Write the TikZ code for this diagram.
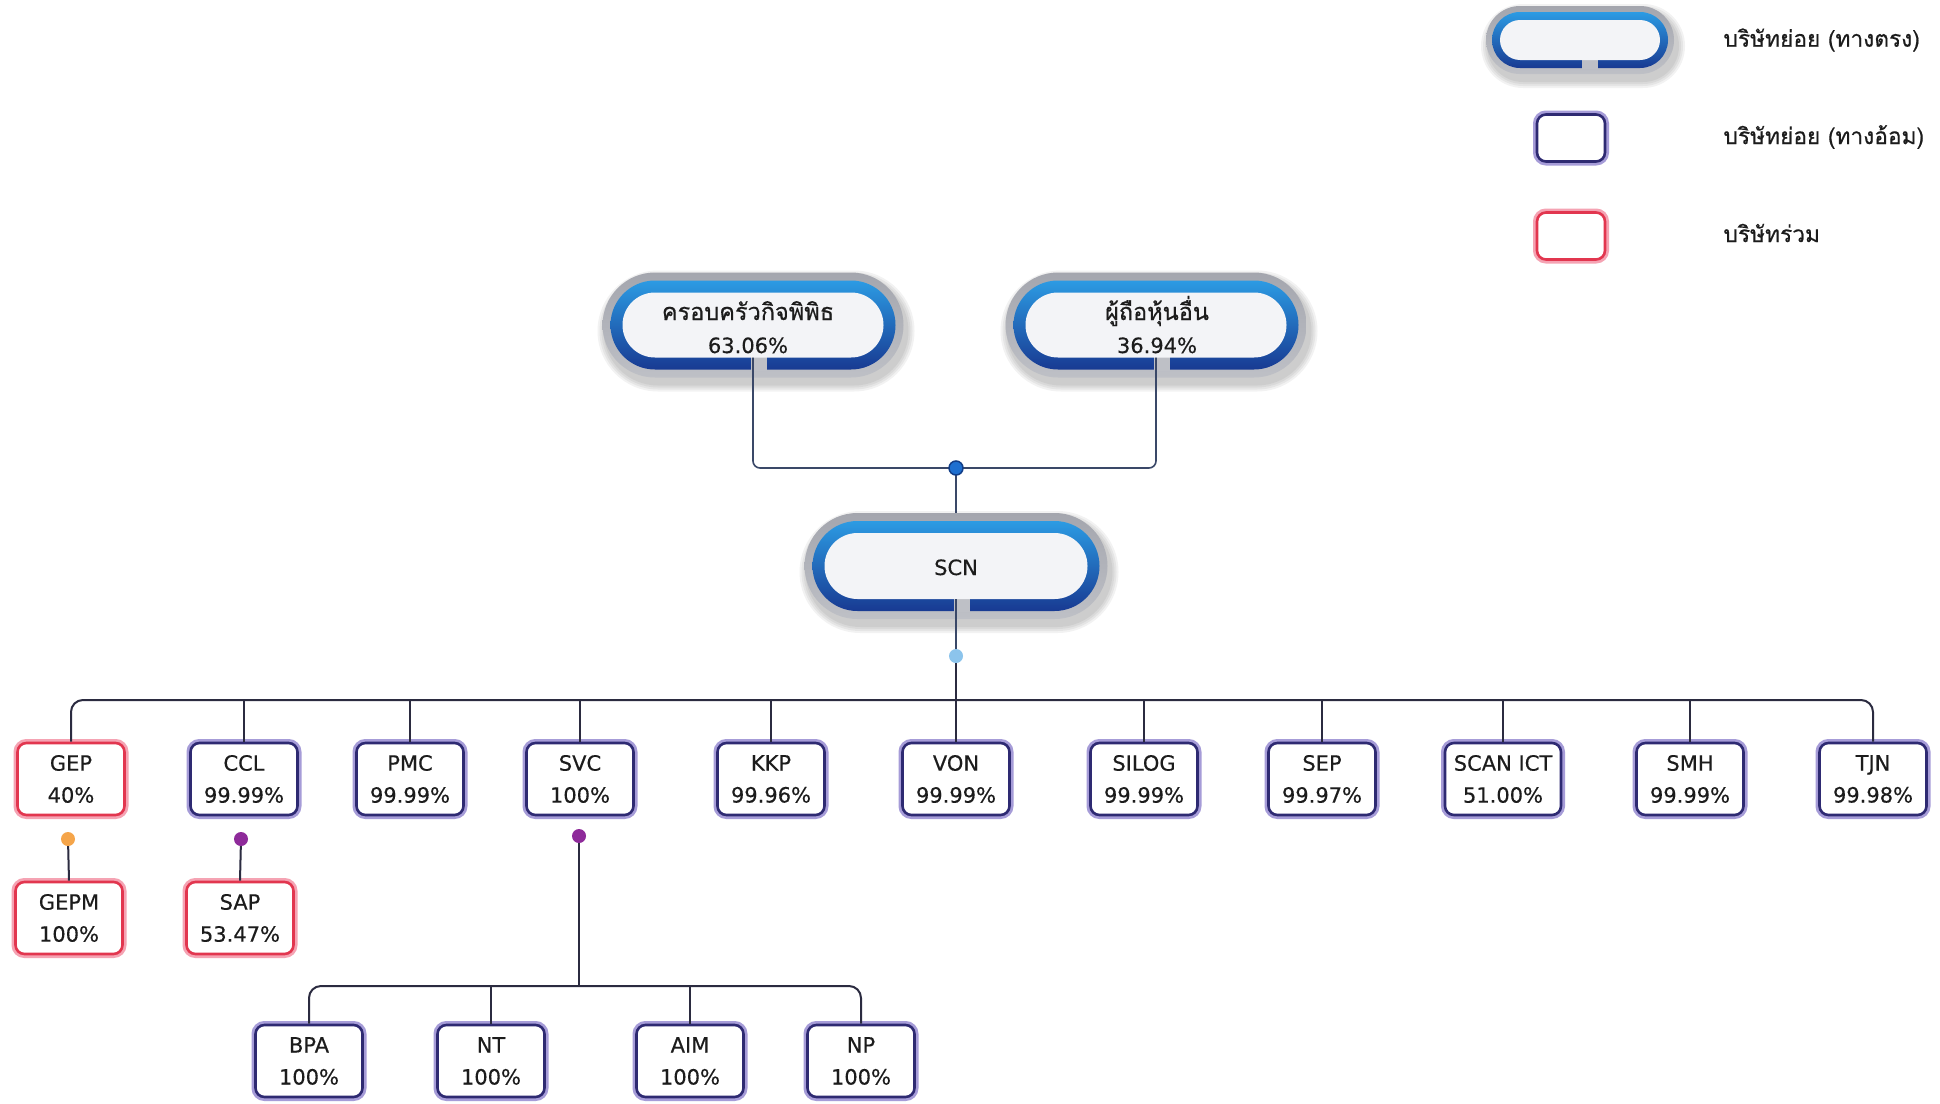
\documentclass[tikz,border=0pt]{standalone}
\usepackage{fontspec}
\setmainfont{DejaVu Sans}[FakeBold=0.4]
\newfontfamily\thaifont[Script=Thai,FakeBold=0.6]{Loma}
\usetikzlibrary{shapes.misc}
\definecolor{navy}{HTML}{2E2A72}
\definecolor{lav}{HTML}{A69CD8}
\definecolor{crim}{HTML}{E2364F}
\definecolor{pinkl}{HTML}{F5A3B3}
\definecolor{linec}{HTML}{2B2B40}
\definecolor{linec1}{HTML}{3A4868}
\definecolor{ringtop}{HTML}{2C9BE3}
\definecolor{ringbot}{HTML}{183A92}
\definecolor{rimtop}{HTML}{A4A6AE}
\definecolor{rimbot}{HTML}{BEC0C6}
\definecolor{pillin}{HTML}{F3F4F7}
\definecolor{txt}{HTML}{1C1C1C}
\definecolor{dotblue}{HTML}{1E6FD0}
\definecolor{dotblueb}{HTML}{123E88}
\definecolor{dotlight}{HTML}{8CC4EC}
\definecolor{dotorange}{HTML}{F5A54A}
\definecolor{dotpurple}{HTML}{8E2A9A}
\tikzset{
  pshadow/.style={rounded rectangle, fill=black, opacity=0.05, draw=none, inner sep=0pt},
  pgray/.style={rounded rectangle, top color=rimtop, bottom color=rimbot, draw=none, inner sep=0pt},
  pring/.style={rounded rectangle, top color=ringtop, bottom color=ringbot, draw=none, inner sep=0pt},
  pinner/.style={rounded rectangle, fill=pillin, draw=none, inner sep=0pt},
  ptext/.style={inner sep=0pt, anchor=base, text=txt, font=\fontsize{21}{33}\selectfont},
  pthai/.style={inner sep=0pt, anchor=base, text=txt, font=\thaifont\fontsize{23.5}{33}\selectfont},
  boxbase/.style={rectangle, rounded corners=9pt, fill=white, inner sep=0pt, align=center, text=txt,
    minimum width=107pt, minimum height=72pt, font=\fontsize{21}{32}\selectfont},
  subd/.style={boxbase, draw=navy, line width=2.6pt, preaction={draw=lav, line width=8pt}},
  assoc/.style={boxbase, draw=crim, line width=2.6pt, preaction={draw=pinkl, line width=8pt}},
  conn/.style={draw=linec, line width=2pt},
  conn1/.style={draw=linec1, line width=1.6pt},
  jdot/.style={circle, inner sep=0pt, minimum size=14pt},
  legtext/.style={anchor=west, text=txt, font=\thaifont\fontsize{22.7}{27}\selectfont},
}
% #1 name, #2 cx, #3 cy, #4 ring w, #5 ring h, #6 band, #7 rim, #8 notch x
\newcommand\mypill[8]{%
  \pgfmathsetmacro\pwA{#4+2*#7}\pgfmathsetmacro\phA{#5+2*#7}%
  \pgfmathsetmacro\pwI{#4-2*#6}\pgfmathsetmacro\phI{#5-2*#6}%
  \foreach \k in {1,2,3,4}{%
    \pgfmathsetmacro\pwS{#4+2*#7+4*\k}\pgfmathsetmacro\phS{#5+2*#7+4*\k}%
    \node[pshadow, minimum width=\pwS pt, minimum height=\phS pt] (#1sh\k) at ({#2+3},{#3+6}) {};}
  \node[pgray, minimum width=\pwA pt, minimum height=\phA pt] (#1rim) at (#2,#3) {};
  \node[pring, minimum width=#4pt, minimum height=#5pt] (#1ring) at (#2,#3) {};
  \fill[rimbot] ({#8-2},{#3+#5/2-#6-1}) rectangle ({#8+14},{#3+#5/2+1});
  \node[pinner, minimum width=\pwI pt, minimum height=\phI pt] (#1) at (#2,#3) {};
}
\begin{document}
\begin{tikzpicture}[x=1pt,y=-1pt]
\useasboundingbox (0,0) rectangle (1940,1103);
\fill[white] (0,0) rectangle (1940,1103);

% legend
\mypill{leg}{1580}{40}{176}{56}{8}{6}{1584}
\node[legtext] (legt1) at (1720,40) {บริษัทย่อย (ทางตรง)};
\node[subd, minimum width=68pt, minimum height=47pt] (legsub) at (1571,138) {};
\node[legtext] (legt2) at (1720,137) {บริษัทย่อย (ทางอ้อม)};
\node[assoc, minimum width=68pt, minimum height=47pt] (legas) at (1571,236) {};
\node[legtext] (legt3) at (1720,233) {บริษัทร่วม};

% top pills
\mypill{fam}{753}{325}{285}{89}{12}{8}{753}
\node[pthai] (famt1) at (748,320) {ครอบครัวกิจพิพิธ};
\node[ptext] (famt2) at (748,353) {63.06\%};
\mypill{oth}{1156}{325}{285}{89}{12}{8}{1156}
\node[pthai] (otht1) at (1157,320) {ผู้ถือหุ้นอื่น};
\node[ptext] (otht2) at (1157,353) {36.94\%};
\mypill{scn}{956}{566}{287}{90}{12}{8}{956}
\node[ptext] (scnt) at (956,575) {SCN};

% first row
\node[assoc] (gep) at (71,779) {GEP\\40\%};
\node[subd] (ccl) at (244,779) {CCL\\99.99\%};
\node[subd] (pmc) at (410,779) {PMC\\99.99\%};
\node[subd] (svc) at (580,779) {SVC\\100\%};
\node[subd] (kkp) at (771,779) {KKP\\99.96\%};
\node[subd] (von) at (956,779) {VON\\99.99\%};
\node[subd] (silog) at (1144,779) {SILOG\\99.99\%};
\node[subd] (sep) at (1322,779) {SEP\\99.97\%};
\node[subd, minimum width=116pt] (scan) at (1503,779) {SCAN ICT\\51.00\%};
\node[subd] (smh) at (1690,779) {SMH\\99.99\%};
\node[subd] (tjn) at (1873,779) {TJN\\99.98\%};

% second row
\node[assoc] (gepm) at (69,918) {GEPM\\100\%};
\node[assoc] (sap) at (240,918) {SAP\\53.47\%};

% third row
\node[subd] (bpa) at (309,1061) {BPA\\100\%};
\node[subd] (nt) at (491,1061) {NT\\100\%};
\node[subd] (aim) at (690,1061) {AIM\\100\%};
\node[subd] (np) at (861,1061) {NP\\100\%};

% junctions
\coordinate (j1) at (956,468);
\coordinate (j2) at (956,656);
\coordinate (bus) at (956,700);
\coordinate (dg) at (68,839);
\coordinate (dc) at (241,839);
\coordinate (ds) at (579,836);
\coordinate (bus2) at (579,986);

% connectors
\draw[conn1, rounded corners=7pt] (fam.south) |- (j1) -| (oth.south);
\draw[conn1] (j1) -- (scnrim.north);
\draw[conn1] (scn.south) -- (j2);
\draw[conn] (j2) -- (von.north);
\draw[conn, rounded corners=12pt] (gep.north) |- (bus) -| (tjn.north);
\foreach \b in {ccl,pmc,svc,kkp,silog,sep,scan,smh}{
  \draw[conn] (\b.north) -- (\b.north |- bus);
}
\draw[conn] (dg) -- (gepm.north);
\draw[conn] (dc) -- (sap.north);
\draw[conn] (ds) -- (bus2);
\draw[conn, rounded corners=12pt] (bpa.north) |- (bus2) -| (np.north);
\draw[conn] (nt.north) -- (nt.north |- bus2);
\draw[conn] (aim.north) -- (aim.north |- bus2);

% dots
\node[jdot, fill=dotblue, draw=dotblueb, line width=1.5pt] (j1dot) at (j1) {};
\node[jdot, fill=dotlight] (j2dot) at (j2) {};
\node[jdot, fill=dotorange] (dgdot) at (dg) {};
\node[jdot, fill=dotpurple] (dcdot) at (dc) {};
\node[jdot, fill=dotpurple] (dsdot) at (ds) {};
\end{tikzpicture}
\end{document}
